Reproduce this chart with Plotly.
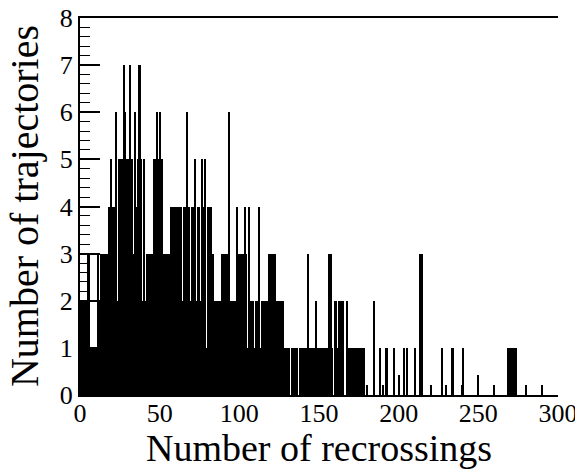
import plotly.graph_objects as go

# Number of recrossings (bin left edges, width 1) and number of trajectories per bin
bins = list(range(300))
counts = [
    2, 2, 2, 2, 2, 3, 1, 1, 1, 1,   # 0-9
    1, 3, 2, 3, 3, 3, 3, 3, 4, 5,   # 10-19
    4, 4, 6, 2, 5, 5, 5, 7, 6, 5,   # 20-29
    5, 7, 5, 3, 6, 4, 5, 7, 5, 2,   # 30-39
    5, 2, 3, 3, 3, 3, 5, 5, 6, 5,   # 40-49
    6, 5, 3, 3, 3, 3, 3, 4, 4, 4,   # 50-59
    4, 4, 4, 4, 2, 4, 4, 6, 4, 2,   # 60-69
    4, 4, 5, 2, 4, 2, 5, 4, 5, 1,   # 70-79
    4, 4, 4, 3, 2, 2, 2, 2, 2, 3,   # 80-89
    3, 3, 3, 6, 2, 2, 2, 2, 4, 3,   # 90-99
    3, 3, 3, 4, 3, 1, 4, 2, 2, 1,   # 100-109
    2, 2, 4, 1, 2, 2, 2, 2, 3, 3,   # 110-119
    3, 3, 3, 2, 2, 2, 2, 2, 1, 1,   # 120-129
    1, 1, 0, 1, 1, 1, 1, 0, 1, 1,   # 130-139
    1, 1, 1, 3, 1, 1, 1, 1, 2, 1,   # 140-149
    1, 1, 1, 1, 1, 1, 3, 3, 1, 0,   # 150-159
    2, 1, 2, 2, 2, 2, 0, 2, 1, 1,   # 160-169
    1, 1, 1, 1, 1, 1, 1, 1, 1, 0,   # 170-179
    0, 0, 0, 0, 2, 0, 0, 0, 1, 0,   # 180-189
    0, 0, 1, 0, 0, 0, 0, 1, 0, 0,   # 190-199
    0, 0, 0, 1, 0, 1, 0, 0, 0, 0,   # 200-209
    1, 0, 0, 3, 3, 0, 0, 0, 0, 0,   # 210-219
    0, 0, 0, 0, 0, 0, 0, 1, 0, 0,   # 220-229
    0, 0, 0, 1, 1, 0, 0, 0, 0, 0,   # 230-239
    1, 0, 0, 0, 0, 0, 0, 0, 0, 0,   # 240-249
    0, 0, 0, 0, 0, 0, 0, 0, 0, 0,   # 250-259
    0, 0, 0, 0, 0, 0, 0, 0, 1, 1,   # 260-269
    1, 1, 1, 1, 0, 0, 0, 0, 0, 0,   # 270-279
    0, 0, 0, 0, 0, 0, 0, 0, 0, 0,   # 280-289
    0, 0, 0, 0, 0, 0, 0, 0, 0, 0,   # 290-299
]

x_title = "Number of recrossings"
y_title = "Number of trajectories"

FONT = "Liberation Serif, Times New Roman, serif"

fig = go.Figure(
    go.Bar(
        x=bins,
        y=counts,
        width=1,
        offset=0,
        marker=dict(color="black", line=dict(width=0)),
        showlegend=False,
    )
)

# the page body adds an 8 px offset, so the figure is 8 px smaller
fig.update_layout(
    width=575,
    height=462,
    margin=dict(l=72, r=25, t=10, b=75, autoexpand=False),
    paper_bgcolor="white",
    plot_bgcolor="white",
    bargap=0,
    font=dict(family=FONT, color="black"),
    annotations=[
        dict(text=x_title, xref="paper", yref="paper", x=0.5, y=-0.141,
             xanchor="center", yanchor="middle", showarrow=False,
             font=dict(family=FONT, size=38, color="black")),
        dict(text=y_title, xref="paper", yref="paper", x=-0.116, y=0.5,
             xanchor="center", yanchor="middle", showarrow=False, textangle=-90,
             font=dict(family=FONT, size=40, color="black")),
    ],
)

fig.update_xaxes(
    range=[0, 300],
    tick0=0,
    dtick=50,
    ticks="inside",
    ticklen=20,
    tickwidth=1.5,
    tickcolor="black",
    minor=dict(ticks="inside", dtick=10, ticklen=10, tickwidth=1.5, tickcolor="black"),
    showline=True,
    linecolor="black",
    linewidth=2,
    mirror=True,
    showgrid=False,
    zeroline=False,
    automargin=False,
    ticklabelstandoff=-6,
    ticklabeloverflow="allow",
    tickfont=dict(family=FONT, size=26, color="black"),
)

fig.update_yaxes(
    range=[0, 8],
    tick0=0,
    dtick=1,
    ticks="inside",
    ticklen=20,
    tickwidth=1.5,
    tickcolor="black",
    minor=dict(ticks="inside", dtick=0.2, ticklen=10, tickwidth=1, tickcolor="black"),
    showline=True,
    linecolor="black",
    linewidth=2,
    mirror=False,
    showgrid=False,
    zeroline=False,
    automargin=False,
    ticklabeloverflow="allow",
    tickfont=dict(family=FONT, size=26, color="black"),
)

fig.write_html("out.html")
